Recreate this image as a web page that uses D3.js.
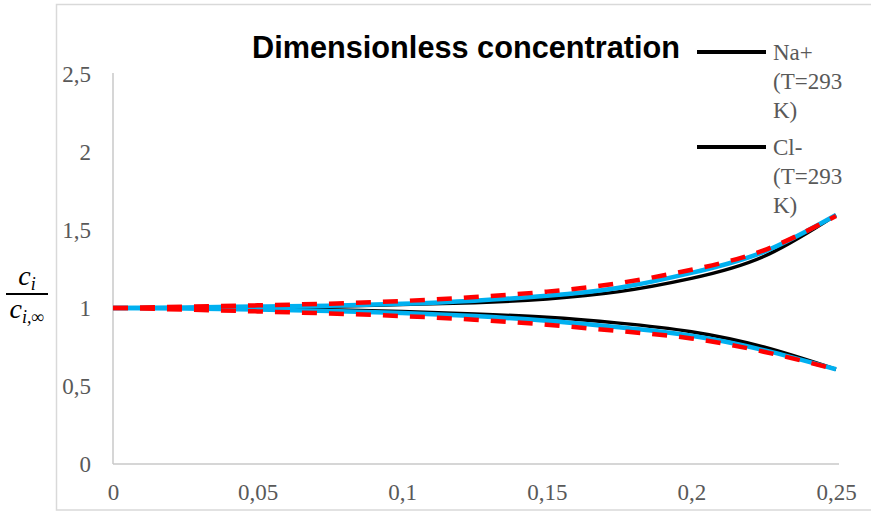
<!DOCTYPE html>
<html>
<head>
<meta charset="utf-8">
<script src="https://cdn.jsdelivr.net/npm/d3@7"></script>
<style>
  html, body { margin: 0; padding: 0; background: #fff; }
  svg { display: block; }
</style>
</head>
<body>
<svg id="chart" width="871" height="512"></svg>
<script>
// Distance from the surface (x) and dimensionless concentration c_i / c_i,inf
const xValues = [0, 0.025, 0.05, 0.075, 0.1, 0.125, 0.15, 0.175, 0.2, 0.225, 0.25];

const naBlack  = [1.000, 1.002, 1.006, 1.012, 1.022, 1.034, 1.058, 1.105, 1.190, 1.330, 1.596];
const clBlack  = [1.000, 0.998, 0.994, 0.988, 0.978, 0.962, 0.940, 0.903, 0.848, 0.750, 0.607];
const naBlue   = [1.000, 1.004, 1.009, 1.015, 1.027, 1.047, 1.078, 1.130, 1.225, 1.360, 1.596];
const clBlue   = [1.000, 0.996, 0.990, 0.981, 0.968, 0.948, 0.918, 0.876, 0.822, 0.730, 0.607];
const naRed    = [1.000, 1.008, 1.017, 1.028, 1.045, 1.070, 1.105, 1.160, 1.245, 1.370, 1.590];
const clRed    = [1.000, 0.990, 0.978, 0.965, 0.948, 0.925, 0.893, 0.852, 0.805, 0.720, 0.607];

const xTicks = [0, 0.05, 0.1, 0.15, 0.2, 0.25];
const yTicks = [0, 0.5, 1, 1.5, 2, 2.5];

const titleText = "Dimensionless concentration";
const legendItems = [
  { lines: ["Na+", "(T=293", "K)"] },
  { lines: ["Cl-", "(T=293", "K)"] }
];

const svg = d3.select("#chart");

// chart frame
svg.append("rect")
  .attr("x", 56.5).attr("y", 4.5)
  .attr("width", 830).attr("height", 505.5)
  .attr("fill", "#fff")
  .attr("stroke", "#d9d9d9")
  .attr("stroke-width", 1.5);

const x = d3.scaleLinear().domain([0, 0.25]).range([113, 836]);
const y = d3.scaleLinear().domain([0, 2.5]).range([464, 74]);

const fmt = d => String(d).replace(".", ",");
const tickFont = "'Liberation Serif', 'DejaVu Serif', serif";

// y axis
const yAxis = svg.append("g")
  .attr("transform", `translate(${x(0)},0)`)
  .call(d3.axisLeft(y).tickValues(yTicks).tickFormat(fmt).tickSize(0).tickPadding(22));
yAxis.select(".domain").attr("stroke", "#c8c8c8").attr("stroke-width", 1.5)
  .attr("d", `M0,${y(0)}V${y(2.5) - 1}`);
yAxis.selectAll("text")
  .attr("font-family", tickFont).attr("font-size", 23).attr("fill", "#595959");

// x axis
const xAxis = svg.append("g")
  .attr("transform", `translate(0,${y(0)})`)
  .call(d3.axisBottom(x).tickValues(xTicks).tickFormat(fmt).tickSize(0).tickPadding(20));
xAxis.select(".domain").attr("stroke", "#c8c8c8").attr("stroke-width", 1.5)
  .attr("d", `M${x(0)},0H${x(0.25) + 3}`);
xAxis.selectAll("text")
  .attr("font-family", tickFont).attr("font-size", 23).attr("fill", "#595959");

// curves
const line = d3.line()
  .x((d, i) => x(xValues[i]))
  .y(d => y(d))
  .curve(d3.curveNatural);

const series = [
  { values: naBlack, color: "#000000", width: 3.5, dash: null },
  { values: clBlack, color: "#000000", width: 3.5, dash: null },
  { values: naBlue,  color: "#00b0f0", width: 4.5, dash: null },
  { values: clBlue,  color: "#00b0f0", width: 4.5, dash: null },
  { values: naRed,   color: "#ff0000", width: 4.5, dash: "15 12" },
  { values: clRed,   color: "#ff0000", width: 4.5, dash: "15 12" }
];

svg.append("g").selectAll("path")
  .data(series)
  .join("path")
  .attr("d", d => line(d.values))
  .attr("fill", "none")
  .attr("stroke", d => d.color)
  .attr("stroke-width", d => d.width)
  .attr("stroke-dasharray", d => d.dash)
  .attr("stroke-linejoin", "round");

// title
svg.append("text")
  .attr("x", 466).attr("y", 58)
  .attr("text-anchor", "middle")
  .attr("font-family", "'Liberation Sans Narrow', 'Liberation Sans', Arial, sans-serif")
  .attr("font-weight", "bold")
  .attr("font-size", 32)
  .attr("textLength", 428)
  .attr("lengthAdjust", "spacingAndGlyphs")
  .attr("fill", "#000")
  .text(titleText);

// legend
const legend = svg.append("g");
legendItems.forEach((item, k) => {
  const cy = 52 + k * 95;
  legend.append("line")
    .attr("x1", 697).attr("x2", 766)
    .attr("y1", cy).attr("y2", cy)
    .attr("stroke", "#000").attr("stroke-width", 4);
  item.lines.forEach((t, j) => {
    legend.append("text")
      .attr("x", 773).attr("y", cy + 8 + j * 29)
      .attr("font-family", tickFont)
      .attr("font-size", 23)
      .attr("fill", "#595959")
      .text(t);
  });
});

// y axis title: c_i / c_i,inf
const yl = svg.append("g").attr("font-family", "'Liberation Serif', 'DejaVu Serif', serif")
  .attr("font-style", "italic").attr("fill", "#000");
const num = yl.append("text").attr("x", 27).attr("y", 285).attr("text-anchor", "middle").attr("font-size", 28);
num.append("tspan").text("c");
num.append("tspan").attr("font-size", 18).attr("dy", 5).text("i");
yl.append("line")
  .attr("x1", 6).attr("x2", 48).attr("y1", 294).attr("y2", 294)
  .attr("stroke", "#000").attr("stroke-width", 1.8);
const den = yl.append("text").attr("x", 27).attr("y", 318).attr("text-anchor", "middle").attr("font-size", 28);
den.append("tspan").text("c");
den.append("tspan").attr("font-size", 18).attr("dy", 5).text("i,∞");
</script>
</body>
</html>
